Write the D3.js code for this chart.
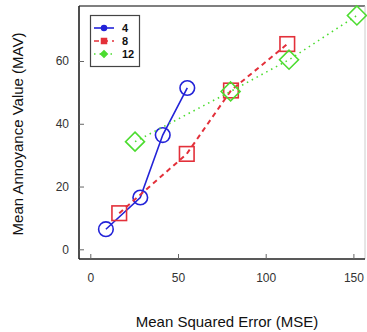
<!DOCTYPE html>
<html><head><meta charset="utf-8">
<script src="https://cdn.jsdelivr.net/npm/d3@7"></script>
<style>body{margin:0;background:#fff;} svg{display:block;font-family:"Liberation Sans",Arial,sans-serif;}</style>
</head><body>
<svg id="c" width="367" height="332"></svg>
<script>
const seriesNames = ["4", "8", "12"];
const mse4 = [8.9, 28.5, 41.3, 55.3];
const mav4 = [6.4, 16.5, 36.4, 51.4];
const mse8 = [16.5, 55.0, 80.2, 112.3];
const mav8 = [11.5, 30.4, 50.6, 65.4];
const mse12 = [25.5, 80.0, 113.3, 152.0];
const mav12 = [34.3, 50.3, 60.4, 74.5];
const xTicks = [0, 50, 100, 150];
const yTicks = [0, 20, 40, 60];

const colors = ["#2323d8", "#e3303a", "#4cdc30"];
const dashes = [null, "5,4", "1.5,4"];
const shapes = ["circle", "square", "diamond"];
const series = [
  {name: seriesNames[0], xs: mse4, ys: mav4},
  {name: seriesNames[1], xs: mse8, ys: mav8},
  {name: seriesNames[2], xs: mse12, ys: mav12}
];

const svg = d3.select("#c");
const L = 79, R = 365, T = 6, B = 259;
const x = d3.scaleLinear().domain([0, 150]).range([90.3, 353.4]);
const y = d3.scaleLinear().domain([0, 60]).range([249.3, 61]);

// frame
svg.append("line").attr("x1", L).attr("x2", R).attr("y1", T).attr("y2", T).attr("stroke", "#555").attr("stroke-width", 1.5);
svg.append("line").attr("x1", R).attr("x2", R).attr("y1", T).attr("y2", B).attr("stroke", "#ccc").attr("stroke-width", 1);

// axes with inward ticks
const xa = svg.append("g").attr("transform", `translate(0,${B})`)
  .call(d3.axisBottom(x).tickValues(xTicks).tickSize(-5).tickPadding(14));
xa.select(".domain").attr("d", `M${L},0H${R}`).attr("stroke", "#222").attr("stroke-width", 1.6);
const ya = svg.append("g").attr("transform", `translate(${L},0)`)
  .call(d3.axisLeft(y).tickValues(yTicks).tickSize(-5).tickPadding(10));
ya.select(".domain").attr("d", `M0,${T}V${B}`).attr("stroke", "#222").attr("stroke-width", 1.6);
[xa, ya].forEach(a => {
  a.selectAll(".tick line").attr("stroke", "#666");
  a.selectAll(".tick text").attr("font-size", 12).attr("fill", "#333").attr("font-family", "Liberation Sans, Arial, sans-serif");
});

// axis titles
svg.append("text").attr("x", 227).attr("y", 327).attr("text-anchor", "middle")
  .attr("font-size", 15).attr("fill", "#111").text("Mean Squared Error (MSE)");
svg.append("text").attr("transform", "translate(23,134) rotate(-90)").attr("text-anchor", "middle")
  .attr("font-size", 15).attr("fill", "#111").text("Mean Annoyance Value (MAV)");

function marker(g, shape, cx, cy, s, color, sw, fill) {
  if (shape === "circle") {
    g.append("circle").attr("cx", cx).attr("cy", cy).attr("r", s).attr("fill", fill || "none").attr("stroke", color).attr("stroke-width", sw);
  } else if (shape === "square") {
    g.append("rect").attr("x", cx - s).attr("y", cy - s).attr("width", 2 * s).attr("height", 2 * s).attr("fill", fill || "none").attr("stroke", color).attr("stroke-width", sw);
  } else {
    const d = s * 1.3;
    g.append("path").attr("d", `M${cx},${cy - d}L${cx + d},${cy}L${cx},${cy + d}L${cx - d},${cy}Z`).attr("fill", fill || "none").attr("stroke", color).attr("stroke-width", sw);
  }
}

const line = d3.line().x(d => x(d[0])).y(d => y(d[1]));
series.forEach((s, i) => {
  const pts = s.xs.map((v, j) => [v, s.ys[j]]);
  const g = svg.append("g");
  g.append("path").attr("d", line(pts)).attr("fill", "none").attr("stroke", colors[i])
    .attr("stroke-width", i === 1 ? 2 : 1.6).attr("stroke-dasharray", dashes[i]);
  pts.forEach(p => marker(g, shapes[i], x(p[0]), y(p[1]), 7.3, colors[i], 1.6));
});

// legend
const lg = svg.append("g");
lg.append("rect").attr("x", 90.5).attr("y", 15.5).attr("width", 49).attr("height", 51).attr("fill", "#fff").attr("stroke", "#444").attr("stroke-width", 1.2);
series.forEach((s, i) => {
  const yy = 28 + i * 13;
  lg.append("line").attr("x1", 94).attr("x2", 114).attr("y1", yy).attr("y2", yy).attr("stroke", colors[i])
    .attr("stroke-width", 1.6).attr("stroke-dasharray", dashes[i]);
  marker(lg, shapes[i], 104, yy, 2.5, colors[i], 1.5, colors[i]);
  lg.append("text").attr("x", 122).attr("y", yy + 4).attr("font-size", 11).attr("font-weight", "bold").attr("fill", "#111").text(s.name);
});
</script>
</body></html>
